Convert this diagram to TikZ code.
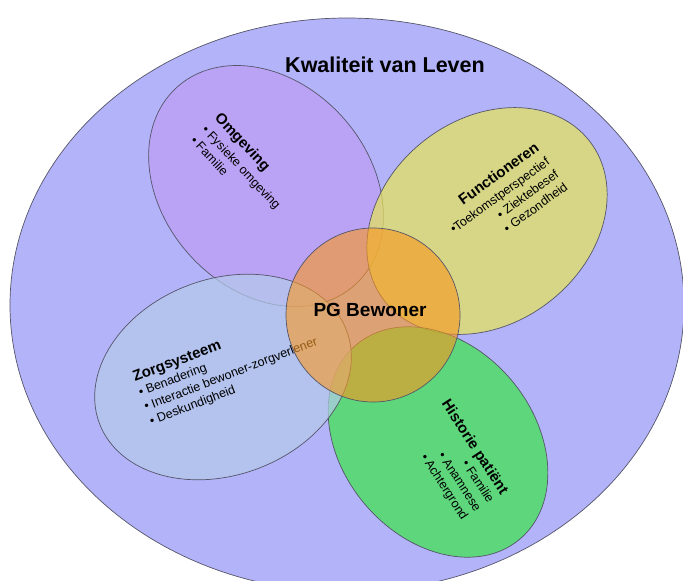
\documentclass[tikz,border=0pt]{standalone}
\usepackage{fontspec}
\setmainfont{Liberation Sans}
\definecolor{leven}{RGB}{179,179,250}
\definecolor{omgeving}{RGB}{190,156,244}
\definecolor{functie}{RGB}{230,230,86}
\definecolor{zorg}{RGB}{180,203,233}
\definecolor{historie}{RGB}{59,230,71}
\definecolor{bewoner}{RGB}{250,150,30}
\definecolor{rand}{RGB}{85,85,105}

\begin{document}
\begin{tikzpicture}[x=1pt,y=-1pt,
  ovaal/.style={draw=rand,line width=0.7pt,fill opacity=0.7},
  lijst/.style={font=\fontsize{12.5}{15.5}\selectfont,inner sep=0pt}]
\newcommand\kop[1]{{\bfseries\fontsize{15}{17}\selectfont #1}}
\clip (0,0) rectangle (683,581);
\fill[white] (0,0) rectangle (683,581);
% kwaliteit van leven
\draw[ovaal,fill=leven,fill opacity=1] (347,305) ellipse (337 and 287);
\node[font=\bfseries\fontsize{21.5}{24}\selectfont] (kvl) at (385,65) {Kwaliteit van Leven};
% vier domeinen
\draw[ovaal,fill=omgeving,rotate around={-48:(266,186)}] (266,186) ellipse (133 and 103);
\draw[ovaal,fill=functie,rotate around={38:(487,221)}] (487,221) ellipse (130 and 102);
\draw[ovaal,fill=historie,rotate around={-50:(438,442)}] (438,442) ellipse (127 and 96);
\draw[ovaal,fill=zorg,rotate around={20.5:(223,377)}] (223,377) ellipse (132 and 98);
\node[lijst,align=left,rotate=-47] (omg) at (243,166)
  {\kop{Omgeving}\\[2pt] • Fysieke omgeving\\ • Familie};
\node[lijst,align=right,rotate=36] (fun) at (503,200)
  {\kop{Functioneren}\\[2pt] •Toekomstperspectief\\ • Ziektebesef\\ • Gezondheid};
\node[lijst,align=left,rotate=21] (zrg) at (228,367)
  {\kop{Zorgsysteem}\\ • Benadering\\ • Interactie bewoner-zorgverlener\\ • Deskundigheid};
\node[lijst,align=right,rotate=-57] (his) at (455,460)
  {\kop{Historie patiënt}\\ • Familie\\ • Anamnese\\ • Achtergrond};
% bewoner in het midden
\draw[ovaal,fill=bewoner,fill opacity=0.6] (373,315) circle (87);
\node[font=\bfseries\fontsize{19}{22}\selectfont] (pg) at (370,310) {PG Bewoner};
\end{tikzpicture}
\end{document}
